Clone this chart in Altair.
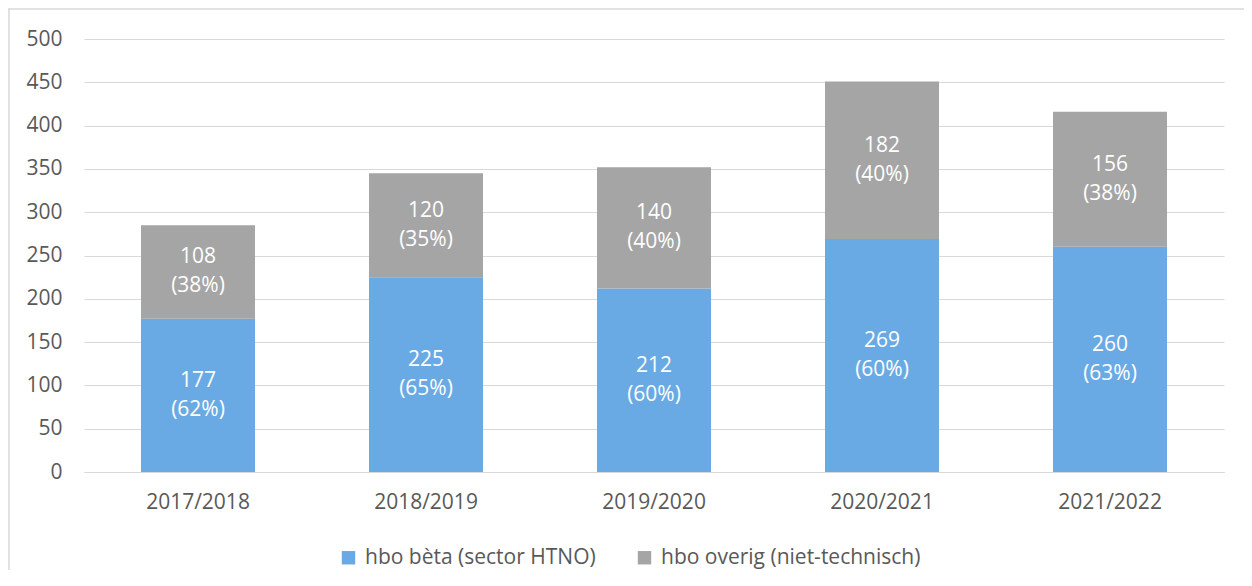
import altair as alt
import pandas as pd

years = ["2017/2018", "2018/2019", "2019/2020", "2020/2021", "2021/2022"]
beta = [177, 225, 212, 269, 260]
beta_pct = ["(62%)", "(65%)", "(60%)", "(60%)", "(63%)"]
overig = [108, 120, 140, 182, 156]
overig_pct = ["(38%)", "(35%)", "(40%)", "(40%)", "(38%)"]
series = ["hbo bèta (sector HTNO)", "hbo overig (niet-technisch)"]
colors = ["#6AAAE4", "#A5A5A5"]

rows = []
for i, y in enumerate(years):
    rows.append({"year": y, "series": series[0], "value": beta[i], "pct": beta_pct[i], "ord": 0,
                 "mid": beta[i] / 2})
    rows.append({"year": y, "series": series[1], "value": overig[i], "pct": overig_pct[i], "ord": 1,
                 "mid": beta[i] + overig[i] / 2})
df = pd.DataFrame(rows)

FONT = "Open Sans"
TXT = "#595959"
FS = 21

x = alt.X("year:N", sort=years, title=None,
          scale=alt.Scale(paddingInner=0.5, paddingOuter=0.25),
          axis=alt.Axis(labelAngle=0, ticks=False, domain=True, domainColor="#D9D9D9",
                        labelPadding=19, labelFontSize=FS, labelColor=TXT, labelFont=FONT))

bars = alt.Chart(df).mark_bar().encode(
    x=x,
    y=alt.Y("value:Q", stack="zero", title=None,
            scale=alt.Scale(domain=[0, 500], nice=False),
            axis=alt.Axis(values=list(range(0, 501, 50)), grid=True, gridColor="#D9D9D9",
                          domain=False, ticks=False, labelPadding=22, labelFontSize=FS,
                          labelColor=TXT, labelFont=FONT)),
    color=alt.Color("series:N", scale=alt.Scale(domain=series, range=colors),
                    legend=alt.Legend(title=None, orient="none", direction="horizontal",
                                      legendX=254, legendY=508, symbolType="square",
                                      symbolSize=180, symbolStrokeWidth=0, labelFontSize=FS,
                                      labelColor=TXT, labelFont=FONT, columnPadding=38,
                                      labelOffset=6, labelLimit=400)),
    order=alt.Order("ord:Q"),
)

num = alt.Chart(df).mark_text(color="white", fontSize=FS, font=FONT, dy=-14.5, baseline="middle").encode(
    x=alt.X("year:N", sort=years),
    y=alt.Y("mid:Q"),
    text=alt.Text("value:Q"),
)
pct = alt.Chart(df).mark_text(color="white", fontSize=FS, font=FONT, dy=14.5, baseline="middle").encode(
    x=alt.X("year:N", sort=years),
    y=alt.Y("mid:Q"),
    text=alt.Text("pct:N"),
)

border_df = pd.DataFrame({"b": [1]})
border_left = alt.Chart(border_df).mark_rule(color="#D9D9D9", strokeWidth=1.5).encode(
    x=alt.value(-75), y=alt.value(-30), y2=alt.value(700)
)
border_top = alt.Chart(border_df).mark_rule(color="#D9D9D9", strokeWidth=1.5).encode(
    x=alt.value(-76), x2=alt.value(1300), y=alt.value(-30)
)

chart = alt.layer(border_left, border_top, bars, num, pct).properties(
    width=1140, height=433,
    autosize=alt.AutoSizeParams(type="none"),
    padding={"left": 76, "top": 31, "right": 20, "bottom": 98},
).configure_view(stroke=None)

chart.save("out.html", embed_options={"renderer": "svg", "actions": False})
